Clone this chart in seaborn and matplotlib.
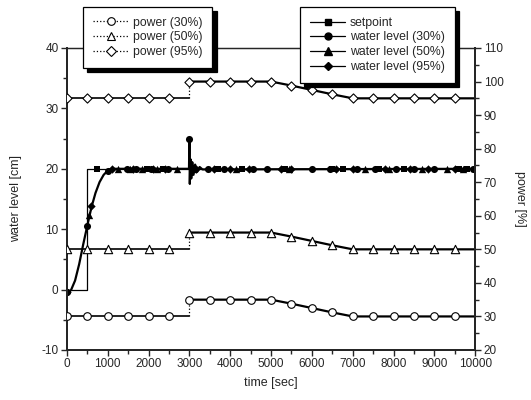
import numpy as np
import matplotlib
matplotlib.use('Agg')
import matplotlib.pyplot as plt
import seaborn as sns
from matplotlib.lines import Line2D
from matplotlib.ticker import MultipleLocator

# ===== DATA =====
# power curves (right axis), value at each sample time; step at 3000 s
power_time = [0, 500, 1000, 1500, 2000, 2500, 3000,
              3000, 3500, 4000, 4500, 5000, 5500, 6000, 6500, 7000, 7500, 8000, 8500, 9000, 9500, 10000]
power_30 = [30, 30, 30, 30, 30, 30, 30,
            35, 35, 35, 35, 35, 33.8, 32.5, 31.2, 30, 30, 30, 30, 30, 30, 30]
power_50 = [50, 50, 50, 50, 50, 50, 50,
            55, 55, 55, 55, 55, 53.8, 52.5, 51.2, 50, 50, 50, 50, 50, 50, 50]
power_95 = [95, 95, 95, 95, 95, 95, 95,
            100, 100, 100, 100, 100, 98.8, 97.5, 96.2, 95, 95, 95, 95, 95, 95, 95]

# setpoint (left axis)
sp_time = [0, 500, 500, 10000]
sp_value = [0, 0, 20, 20]
sp_mark_t = [730, 1950, 2350, 3700, 4300, 5350, 6500, 6750, 7650, 8250, 9600, 9800]
sp_mark_v = [20, 20, 20, 20, 20, 20, 20, 20, 20, 20, 20, 20]

# water level response (the three runs lie on top of each other)
wl_time = [0, 100, 200, 300, 400, 500, 600, 700, 800, 900, 1000, 1100, 1200,
           2990, 3000, 3010, 3025, 3045, 3070, 3100, 3140, 3190, 3250, 3320, 10000]
wl_value = [-0.5, -0.1, 1.5, 4.2, 7.5, 10.6, 13.6, 16.0, 17.8, 19.0, 19.7, 20.0, 20.0,
            20.0, 25.0, 17.5, 21.6, 18.4, 21.1, 19.0, 20.7, 19.5, 20.3, 19.9, 20.0]

wl30_mark_t = [0, 500, 1000, 1460, 1700, 2050, 2480, 3000, 3450, 3850, 4550, 4900,
               6000, 6450, 7100, 7550, 8050, 8500, 9000, 9950]
wl30_mark_v = [-0.4, 10.6, 19.7, 20, 20, 20, 20, 25, 20, 20, 20, 20,
               20, 20, 20, 20, 20, 20, 20, 20]
wl50_mark_t = [550, 1250, 1550, 1850, 2200, 2700, 3100, 4150, 5450, 7300, 7900, 8700, 9300, 9700]
wl50_mark_v = [12.3, 20, 20, 20, 20, 20, 20, 20, 20, 20, 20, 20, 20, 20]
wl95_mark_t = [0, 600, 1100, 1620, 2100, 2400, 3150, 3600, 4000, 4450, 5250, 5500,
               6600, 7000, 7800, 8400, 8850, 9500]
wl95_mark_v = [-0.4, 13.8, 20, 20, 20, 20, 20, 20, 20, 20, 20, 20,
               20, 20, 20, 20, 20, 20]

# ===== STYLE =====
sns.set_style("ticks")
plt.rcParams['font.family'] = ['Liberation Sans', 'DejaVu Sans']
plt.rcParams['font.size'] = 8.5
plt.rcParams['axes.unicode_minus'] = False

fig = plt.figure(figsize=(5.31, 4.0), dpi=100)
ax = fig.add_axes([0.126, 0.125, 0.769, 0.755])
ax2 = ax.twinx()

# ===== WATER LEVEL (left axis) =====
sns.lineplot(x=sp_time, y=sp_value, ax=ax, color='k', linewidth=0.9,
             estimator=None, sort=False)
sns.lineplot(x=wl_time, y=wl_value, ax=ax, color='k', linewidth=1.6,
             estimator=None, sort=False)
sns.scatterplot(x=sp_mark_t, y=sp_mark_v, ax=ax, marker='s', color='k', s=22, linewidth=0, zorder=3)
sns.scatterplot(x=wl30_mark_t, y=wl30_mark_v, ax=ax, marker='o', color='k', s=26, linewidth=0, zorder=3)
sns.scatterplot(x=wl50_mark_t, y=wl50_mark_v, ax=ax, marker='^', color='k', s=28, linewidth=0, zorder=3)
sns.scatterplot(x=wl95_mark_t, y=wl95_mark_v, ax=ax, marker='D', color='k', s=18, linewidth=0, zorder=3)

# ===== POWER (right axis) =====
for vals, mk, ms in [(power_30, 'o', 30), (power_50, '^', 36), (power_95, 'D', 22)]:
    sns.lineplot(x=power_time[:7], y=vals[:7], ax=ax2, color='k', linewidth=1.2,
                 estimator=None, sort=False)
    sns.lineplot(x=power_time[6:8], y=vals[6:8], ax=ax2, color='k', linewidth=0.9,
                 linestyle=':', estimator=None, sort=False)
    sns.lineplot(x=power_time[7:], y=vals[7:], ax=ax2, color='k', linewidth=1.6,
                 estimator=None, sort=False)
    sns.scatterplot(x=power_time[:6] + power_time[7:-1], y=vals[:6] + vals[7:-1], ax=ax2,
                    marker=mk, s=ms, facecolor='white', edgecolor='k', linewidth=0.8, zorder=3)

# ===== AXES =====
ax.set_xlim(0, 10000)
ax.set_ylim(-10, 40)
ax2.set_ylim(20, 110)
ax.xaxis.set_major_locator(MultipleLocator(1000))
ax.xaxis.set_minor_locator(MultipleLocator(500))
ax.yaxis.set_major_locator(MultipleLocator(10))
ax.yaxis.set_minor_locator(MultipleLocator(5))
ax2.yaxis.set_major_locator(MultipleLocator(10))
ax2.yaxis.set_minor_locator(MultipleLocator(5))

for a in (ax, ax2):
    a.tick_params(which='major', direction='out', length=4, width=1, labelsize=8.5, pad=2)
    a.tick_params(which='minor', direction='out', length=3, width=1)
    for side in ['left', 'right', 'bottom']:
        a.spines[side].set_linewidth(1.4)
    a.spines['top'].set_linewidth(0.9)
    a.spines['top'].set_visible(True)
    a.spines['right'].set_visible(True)

ax.set_xlabel('time [sec]', fontsize=9, labelpad=5)
ax.set_ylabel('water level [cm]', fontsize=9, labelpad=14)
ax2.set_ylabel('power [%]', fontsize=9, rotation=270, labelpad=16)

# ===== LEGENDS =====
shadow = {'color': 'k', 'alpha': 1, 'ox': 3, 'oy': -3}
leg_kw = dict(loc='upper left', frameon=True, fancybox=False, framealpha=1, edgecolor='k',
              shadow=shadow, fontsize=8.8, handlelength=2.9, labelspacing=0.22,
              borderpad=0.8, handletextpad=0.4, borderaxespad=0)

h_left = [Line2D([], [], color='k', ls=':', lw=0.9, marker=m, mfc='white', mec='k', ms=s, mew=0.8)
          for m, s in [('o', 5.5), ('^', 6), ('D', 4.7)]]
leg1 = fig.legend(h_left, ['power (30%)', 'power (50%)', 'power (95%)'],
                  bbox_to_anchor=(83 / 531, 1 - 7 / 400), **leg_kw)
leg1.get_frame().set_linewidth(0.9)

h_right = [Line2D([], [], color='k', ls='-', lw=0.9, marker=m, mfc='k', mec='k', ms=s)
           for m, s in [('s', 4.5), ('o', 5), ('^', 5.5), ('D', 4.5)]]
leg2 = fig.legend(h_right, ['setpoint', 'water level (30%)', 'water level (50%)', 'water level (95%)'],
                  bbox_to_anchor=(300 / 531, 1 - 7 / 400), **leg_kw)
leg2.get_frame().set_linewidth(0.9)

plt.savefig('out.png', dpi=100)
